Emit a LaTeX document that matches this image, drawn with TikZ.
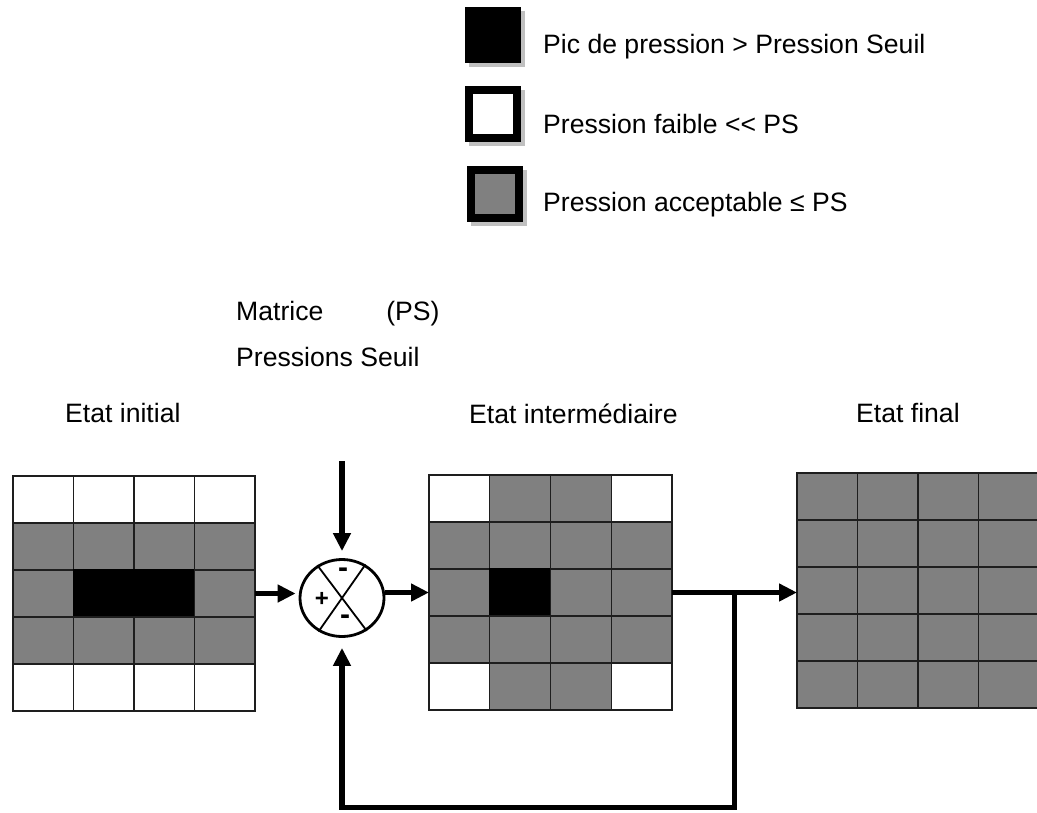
\documentclass[tikz,border=0pt]{standalone}
\usepackage{fontspec}
\setmainfont{Liberation Sans}
\usetikzlibrary{arrows.meta,shapes.geometric,backgrounds,calc}

\definecolor{cellgray}{HTML}{808080}
\definecolor{gridline}{HTML}{1E1E1E}
\definecolor{shadowgray}{HTML}{C0C0C0}
\colorlet{cw}{white}
\colorlet{cg}{cellgray}
\colorlet{cb}{black}
\colorlet{lw}{gridline}
\colorlet{lg}{gridline}
\colorlet{lb}{black}

% #1 name, #2 left x, #3 top y, #4 cell width, #5 rows of cell colours (w/g/b)
\newcommand\pressuregrid[5]{%
  \foreach \rowcells [count=\i from 0] in {#5} {
    \foreach \c [count=\j from 0] in \rowcells {
      \draw[cellline, draw=l\c, fill=c\c] ({#2+\j*#4},{#3+\i*47}) rectangle ++(#4,47);
    }
  }
  \node[gridframe, minimum width={4*#4pt}, minimum height=235pt] (#1)
    at ({#2+2*#4},{#3+117.5}) {};
}

\begin{document}
\begin{tikzpicture}[x=1pt,y=-1pt,
  cellline/.style={line width=1.4pt},
  gridframe/.style={inner sep=0pt, outer sep=0pt, draw=none},
  flow/.style={line width=5.5pt, -{Triangle[length=18pt,width=17pt]}},
  key/.style={draw=black, line width=8pt, minimum size=48pt, inner sep=0pt},
  lbl/.style={anchor=base west, inner sep=0pt, font=\fontsize{26.6}{32}\selectfont},
  sign/.style={inner sep=0pt, font=\bfseries\fontsize{24}{26}\selectfont},
  minus/.style={inner sep=0pt, font=\bfseries\fontsize{30}{32}\selectfont},
]
\useasboundingbox (0,0) rectangle (1037,812);
\clip (0,0) rectangle (1037,812);

% legend
\node[key, fill=black] (kpeak) at (493,35) {};
\node[key, fill=white] (klow) at (493,114) {};
\node[key, fill=cellgray] (kok) at (495,193.5) {};
\begin{scope}[on background layer]
  \foreach \k in {kpeak,klow,kok}
    \fill[shadowgray] ([shift={(4pt,-4pt)}]\k.south west) rectangle ([shift={(4pt,-4pt)}]\k.north east);
\end{scope}
\node[lbl] (tpeak) at (543,53) {Pic de pression > Pression Seuil};
\node[lbl] (tlow) at (543,133) {Pression faible <\kern0pt< PS};
\node[lbl] (tok) at (543,211) {Pression acceptable ≤ PS};

% captions
\node[lbl] (tmat) at (236,320) {Matrice\hspace{63pt}(PS)};
\node[lbl] (tseuil) at (236,366) {Pressions Seuil};
\node[lbl] (tinit) at (65,422) {Etat initial};
\node[lbl] (tinter) at (469,423) {Etat intermédiaire};
\node[lbl] (tfinal) at (856,422) {Etat final};

% pressure matrices
\pressuregrid{g1}{13}{476}{60.5}{{w,w,w,w},{g,g,g,g},{g,b,b,g},{g,g,g,g},{w,w,w,w}}
\pressuregrid{g2}{429}{475}{60.75}{{w,g,g,w},{g,g,g,g},{g,b,g,g},{g,g,g,g},{w,g,g,w}}
\pressuregrid{g3}{797}{473}{60.5}{{g,g,g,g},{g,g,g,g},{g,g,g,g},{g,g,g,g},{g,g,g,g}}

% summing junction
\node[ellipse, draw=black, line width=2.8pt, minimum width=84pt, minimum height=77pt, inner sep=0pt, fill=white] (sum) at (342,598) {};
\draw[line width=1.8pt] (sum.127) -- (sum.307);
\draw[line width=1.8pt] (sum.55) -- (sum.235);
\node[minus] (sgtop) at ([shift={(1pt,25pt)}]sum.center) {-};
\node[sign] (sgleft) at ([shift={(-20pt,-1pt)}]sum.center) {+};
\node[minus] (sgbot) at ([shift={(3pt,-22pt)}]sum.center) {-};

% connectors
\path (sum.north) ++(0,-97) coordinate (src);
\coordinate (split) at ($(g2.east)!0.5!(g2.east -| g3.west)$);
\path (split) ++(0,215) coordinate (low);

\draw[flow, shorten >=7pt] (src) -- (sum.north);
\draw[flow, shorten >=3pt] (g1.east) -- (g1.east -| sum.west);
\draw[flow] (sum.east |- g2.west) -- (g2.west);
\draw[flow] (g2.east) -- (g2.east -| g3.west);
\draw[flow, shorten >=10pt] (split) -- (low) -| (sum.south);
\end{tikzpicture}
\end{document}
